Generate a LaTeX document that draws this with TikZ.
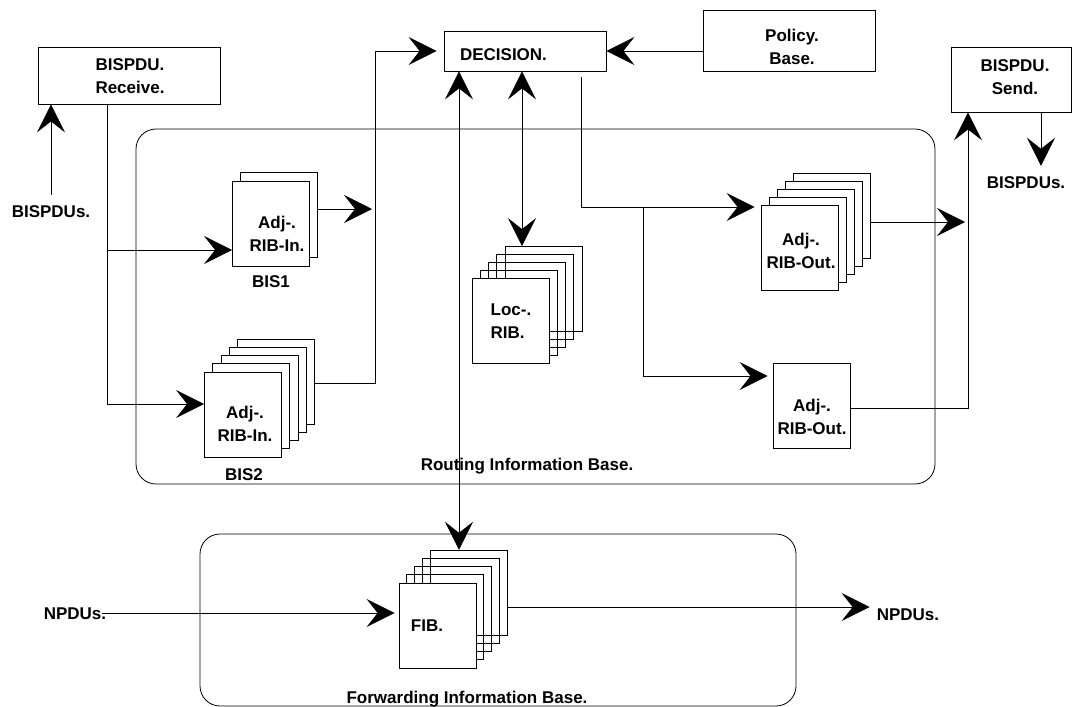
\documentclass[tikz,border=0pt]{standalone}
\usepackage{fontspec}
\setmainfont{Liberation Sans}
\usetikzlibrary{arrows.meta}
\begin{document}
\begin{tikzpicture}[x=1pt,y=-1pt,
  every node/.style={font=\fontsize{17}{23}\selectfont\bfseries},
  box/.style={draw, line width=0.8pt, inner sep=0pt},
  pg/.style={draw, fill=white, line width=0.8pt, minimum width=77pt, minimum height=85pt, inner sep=0pt},
  pgb/.style={draw, line width=0.8pt, minimum width=77pt, minimum height=85pt, inner sep=0pt},
  txt/.style={inner sep=0pt, align=center},
  ln/.style={line width=0.8pt},
  tip/.tip={Stealth[length=28pt,width=28pt,inset=11pt]},
  arr/.style={ln, -tip},
  darr/.style={ln, tip-tip},
  region/.style={draw, line width=0.8pt, rounded corners=20pt}]
\useasboundingbox (0,0) rectangle (1074,707);

% regions
\draw[region] (136,129) rectangle (935,484);
\draw[region] (200,534) rectangle (796,706);
\node[txt] (ribL) at (527,466) {Routing Information Base.};
\node[txt] (fibL) at (467,699) {Forwarding Information Base.};

% top boxes
\node[box, minimum width=182pt, minimum height=57pt] (recv) at (129,75.5) {};
\node[txt] (recvT) at (130,76.5) {BISPDU.\\Receive.};
\node[box, minimum width=162pt, minimum height=40pt] (dec) at (525,51) {};
\node[txt] (decT) at (503.5,55) {DECISION.};
\node[box, minimum width=172pt, minimum height=61pt] (pol) at (789,40.5) {};
\node[txt] (polT) at (792,46.5) {Policy.\\Base.};
\node[box, minimum width=120pt, minimum height=65pt] (send) at (1011,79.5) {};
\node[txt] (sendT) at (1015,77.5) {BISPDU.\\Send.};
\node[txt] (bin) at (51,212) {BISPDUs.};
\node[txt] (bout) at (1026,183) {BISPDUs.};
\node[txt] (nin) at (75,614) {NPDUs.};
\node[txt] (nout) at (908,615) {NPDUs.};

% BIS1 stack
\node[pg] (bis1-1) at (279.25,215.25) {};
\node[pg] (bis1-0) at (271,223.5) {};
\node[txt] (bis1T) at (277,233.5) {Adj-.\\RIB-In.};
\node[txt] (bis1N) at (271,282) {BIS1};

% BIS2 stack
\foreach \i in {4,3,2,1} \node[pg] (bis2-\i) at (243+8.25*\i,414.5-8.25*\i) {};
\node[pg] (bis2-0) at (243,414.5) {};
\node[txt] (bis2T) at (245,423.5) {Adj-.\\RIB-In.};
\node[txt] (bis2N) at (244,475) {BIS2};

% Loc-RIB stack
\foreach \i in {4,3,2,1} \node[pgb] (loc-\i) at (511+8.1*\i,321-8*\i) {};
\node[pg] (loc-0) at (511,321) {};
\node[txt, align=left] (locT) at (511,321) {Loc-.\\RIB.};

% Adj-RIB-Out stack
\foreach \i in {4,3,2,1} \node[pg] (out-\i) at (799.5+8.1*\i,247.5-8*\i) {};
\node[pg] (out-0) at (799.5,247.5) {};
\node[txt] (outT) at (801,251) {Adj-.\\RIB-Out.};

% lower Adj-RIB-Out
\node[pg] (outB) at (811.5,405.5) {};
\node[txt] (outBT) at (812,416.5) {Adj-.\\RIB-Out.};

% FIB stack
\foreach \i in {4,3,2,1} \node[pgb] (fib-\i) at (437.5+7.8*\i,625.5-8.2*\i) {};
\node[pg] (fib-0) at (437.5,625.5) {};
\node[txt] (fibT) at (427,626) {FIB.};

% junction coordinates
\coordinate (jt) at (375,51);
\coordinate (dx) at (581,77);
\coordinate (jb) at (643,207);
\coordinate (jr) at (968,408);

% connectors
\draw[arr] ([yshift=11pt]bin.north) -- (recv.south -| bin.north);
\draw[arr] (recv.south -| 107,0) |- (bis1-0.west |- 0,250);
\draw[arr] (recv.south -| 107,0) |- (bis2-0.west |- 0,404);
\draw[arr, shorten >=3pt] (bis1-1.east |- 0,209) -- (jt |- 0,209);
\draw[arr, shorten >=7pt] (bis2-4.east |- 0,383) -| (jt) -- (dec.west |- jt);
\draw[arr] (pol.west |- dec.east) -- (dec.east);
\draw[darr] (dec.south -| 522,0) -- (loc-4.north -| 522,0);
\draw[darr] (dec.south -| 459,0) -- (fib-4.north -| 459,0);
\draw[arr, shorten >=6pt] (dx) |- (out-0.west |- jb);
\draw[arr, shorten >=5pt] (jb) |- (outB.west |- 0,376);
\draw[arr, shorten >=3pt] (out-4.east |- 0,222) -- (jr |- 0,222);
\draw[arr] (outB.east |- jr) -- (jr) -- (send.south -| jr);
\draw[arr, shorten >=11pt] (send.south -| 1041,0) -- (bout.north -| 1041,0);
\draw[arr, shorten >=4pt] ([xshift=-4pt]nin.east |- 0,613) -- (fib-0.west |- 0,613);
\draw[arr, shorten >=7pt] (fib-4.east |- 0,607) -- (nout.west |- 0,607);
\end{tikzpicture}
\end{document}
